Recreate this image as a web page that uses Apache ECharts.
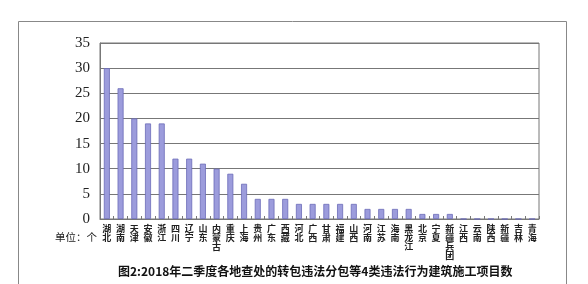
<!DOCTYPE html>
<html><head><meta charset="utf-8">
<script src="https://cdn.jsdelivr.net/npm/echarts@6/dist/echarts.min.js"></script>
<style>html,body{margin:0;padding:0;background:#fff}#c{width:588px;height:284px}</style>
</head><body><div id="c"></div>
<script>
const categories = ['湖北','湖南','天津','安徽','浙江','四川','辽宁','山东','内蒙古','重庆','上海','贵州','广东','西藏','河北','广西','甘肃','福建','山西','河南','江苏','海南','黑龙江','北京','宁夏','新疆兵团','江西','云南','陕西','新疆','吉林','青海'];
const values = [30,26,20,19,19,12,12,11,10,9,7,4,4,4,3,3,3,3,3,2,2,2,2,1,1,1,0,0,0,0,0,0];
const yTicks = [0,5,10,15,20,25,30,35];
const titleText = '图2:2018年二季度各地查处的转包违法分包等4类违法行为建筑施工项目数';
const unitText = '单位：个';

const chart = echarts.init(document.getElementById('c'), null, {renderer:'canvas'});
chart.setOption({
  animation:false,
  backgroundColor:'#fff',
  grid:{left:100, right:49, top:43, bottom:65, show:true, borderColor:'#777', borderWidth:1},
  xAxis:{
    type:'category', data:categories,
    axisLine:{lineStyle:{color:'#777'}},
    axisTick:{show:true, inside:true, length:3, lineStyle:{color:'#777'}},
    axisLabel:{interval:0, fontSize:9, lineHeight:9, color:'#222', margin:5,
      fontFamily:'"Noto Sans CJK SC"', fontWeight:'bold',
      formatter:v=>v.split('').join('\n')}
  },
  yAxis:{
    type:'value', min:0, max:35, interval:5,
    axisLine:{show:true, lineStyle:{color:'#777'}},
    axisTick:{show:false},
    splitLine:{lineStyle:{color:'#777', width:1}},
    axisLabel:{fontSize:15, color:'#222', margin:10, fontFamily:'"Liberation Serif"',
      formatter:v=>yTicks.includes(v)?String(v):''}
  },
  series:[{type:'bar', data:values, barWidth:6,
    itemStyle:{color:'#9c9cdc', borderColor:'#6b6bb8', borderWidth:0.8}}],
  graphic:[
    {type:'rect', shape:{x:18.5, y:21.5, width:548, height:280}, style:{fill:'none', stroke:'#888', lineWidth:1}, silent:true},
    {type:'text', left:55, top:232, style:{text:unitText, fontSize:10.5, fill:'#222', fontFamily:'"Noto Sans CJK SC"'}},
    {type:'text', left:118, top:265, style:{text:titleText, fontSize:12, fontWeight:'bold', fill:'#111', fontFamily:'"Noto Sans CJK SC"'}}
  ]
});
</script></body></html>
